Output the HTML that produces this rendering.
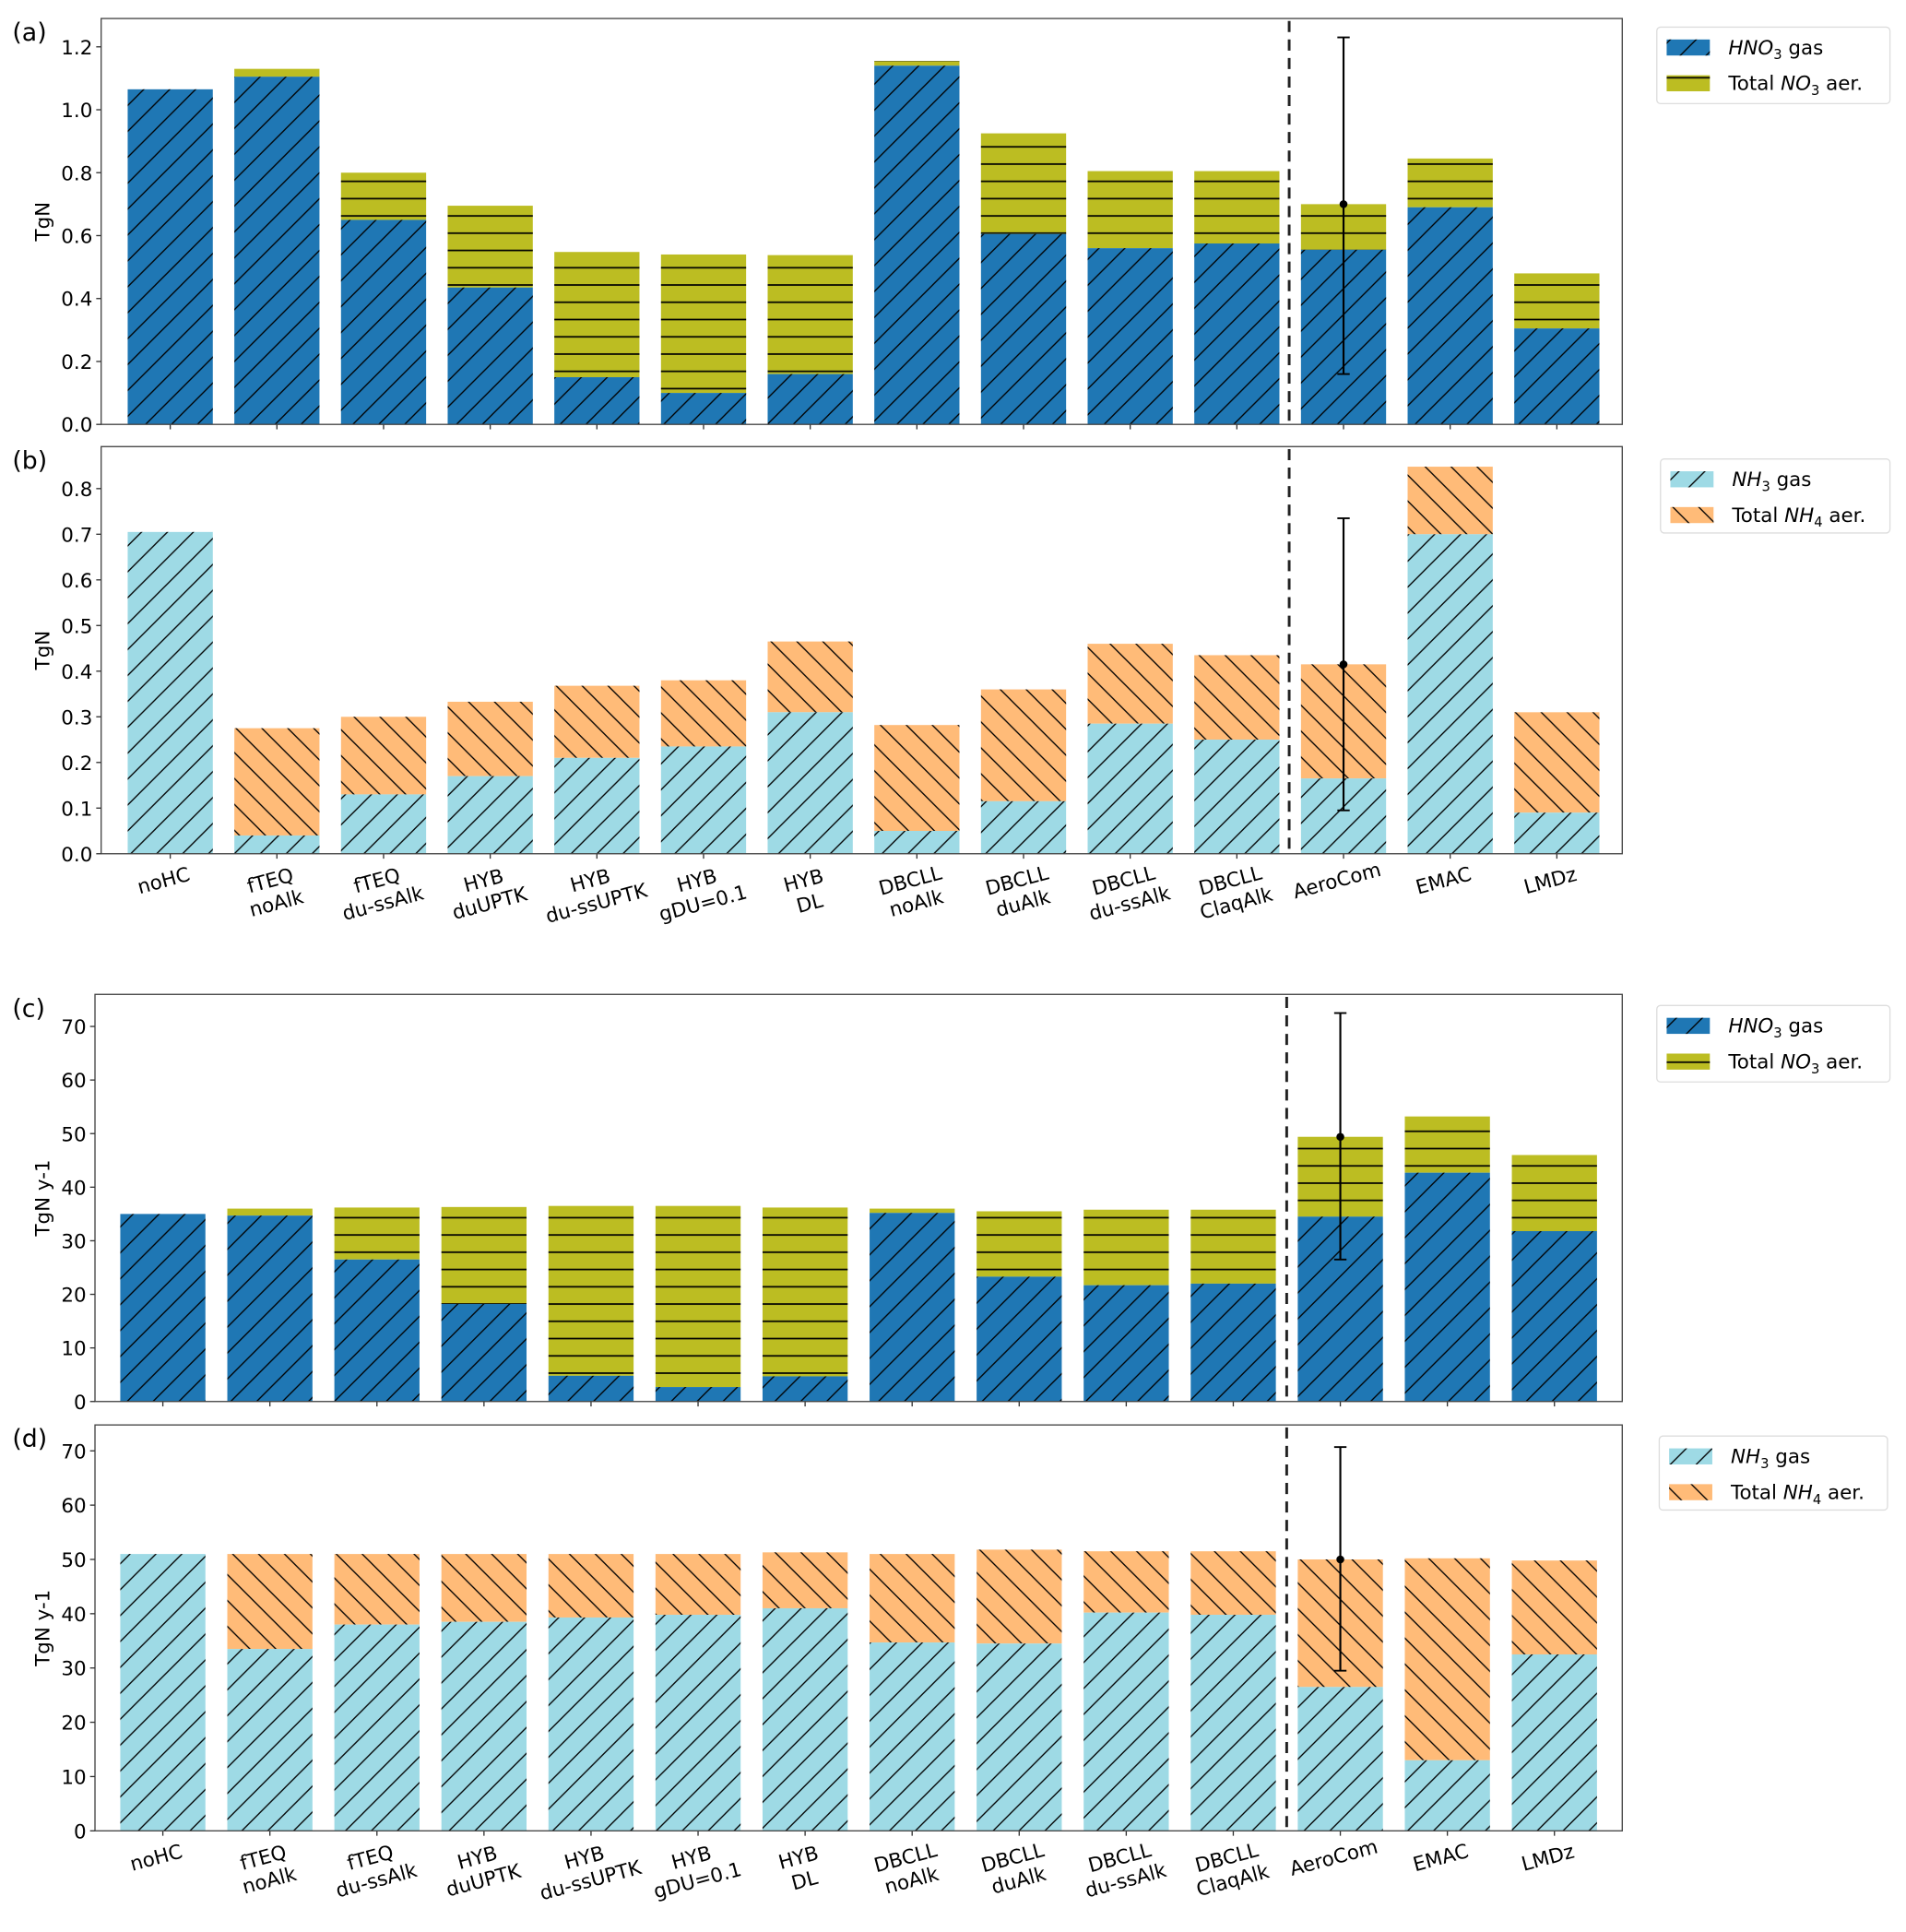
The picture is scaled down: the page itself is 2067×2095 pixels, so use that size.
<!DOCTYPE html>
<html><head><meta charset="utf-8"><style>
html,body{margin:0;padding:0;background:#fff;}
svg{display:block;font-family:"DejaVu Sans","Liberation Sans",sans-serif;}
</style></head><body>
<svg id="fig" width="2067" height="2095" viewBox="0 0 1545 1566" preserveAspectRatio="none" xmlns="http://www.w3.org/2000/svg">
<defs>
<pattern id="hs" patternUnits="userSpaceOnUse" width="21" height="21"><path d="M0,21L21,0M-5,5L5,-5M16,26L26,16" stroke="#000" stroke-width="1"/></pattern>
<pattern id="hb" patternUnits="userSpaceOnUse" width="21" height="21"><path d="M0,0L21,21M-5,16L5,26M16,-5L26,5" stroke="#000" stroke-width="1"/></pattern>
<pattern id="hh" patternUnits="userSpaceOnUse" width="14" height="14"><path d="M-1,7H15" stroke="#000" stroke-width="1.2"/></pattern>
</defs>
</svg>
<script>
const categories=["noHC","fTEQ\nnoAlk","fTEQ\ndu-ssAlk","HYB\nduUPTK","HYB\ndu-ssUPTK","HYB\ngDU=0.1","HYB\nDL","DBCLL\nnoAlk","DBCLL\nduAlk","DBCLL\ndu-ssAlk","DBCLL\nClaqAlk","AeroCom","EMAC","LMDz"];
const aGas=[1.065,1.105,0.65,0.435,0.15,0.10,0.16,1.14,0.605,0.56,0.575,0.555,0.69,0.305];
const aTotal=[1.065,1.13,0.80,0.695,0.548,0.54,0.538,1.155,0.925,0.805,0.805,0.70,0.845,0.48];
const aErr=[0.70,0.16,1.23];
const bGas=[0.705,0.04,0.13,0.17,0.21,0.235,0.31,0.05,0.115,0.285,0.25,0.165,0.70,0.09];
const bTotal=[0.705,0.275,0.30,0.333,0.368,0.38,0.465,0.282,0.36,0.46,0.435,0.415,0.848,0.31];
const bErr=[0.415,0.095,0.735];
const cGas=[35,34.7,26.5,18.2,4.8,2.7,4.7,35.2,23.3,21.7,22,34.5,42.7,31.8];
const cTotal=[35,36,36.2,36.3,36.5,36.5,36.2,36,35.5,35.8,35.8,49.4,53.2,46];
const cErr=[49.4,26.5,72.5];
const dGas=[51,33.5,38,38.5,39.3,39.8,41,34.7,34.5,40.2,39.8,26.5,13,32.5];
const dTotal=[51,51,51,51,51,51,51.3,51,51.8,51.5,51.5,50,50.2,49.8];
const dErr=[50,29.5,70.7];
const ticksA=["0.0","0.2","0.4","0.6","0.8","1.0","1.2"];
const ticksB=["0.0","0.1","0.2","0.3","0.4","0.5","0.6","0.7","0.8"];
const ticksCD=["0","10","20","30","40","50","60","70"];

const NS="http://www.w3.org/2000/svg";
const svg=document.getElementById('fig');
function mk(tag,attrs,parent){const e=document.createElementNS(NS,tag);for(const k in attrs)e.setAttribute(k,attrs[k]);(parent||svg).appendChild(e);return e;}

const panels=[
 {id:'a',L:82,R:1315,T:15,B:344,y0:344,ymax:1.29,gas:aGas,tot:aTotal,err:aErr,ticks:ticksA,ylab:'TgN',c1:'#1f77b4',p1:'hs',c2:'#bcbd22',p2:'hh',leg:['HNO','3',' gas','NO','3'],legBox:[1343,22,189,62],xl:false,x0:138,dx:86.46,dash:1045},
 {id:'b',L:82,R:1315,T:362,B:692,y0:692,ymax:0.892,gas:bGas,tot:bTotal,err:bErr,ticks:ticksB,ylab:'TgN',c1:'#9edae5',p1:'hs',c2:'#ffbb78',p2:'hb',leg:['NH','3',' gas','NH','4'],legBox:[1346,372,186,60],xl:true,x0:138,dx:86.46,dash:1045},
 {id:'c',L:77,R:1315,T:806,B:1136,y0:1136,ymax:(1136-806)/4.343,gas:cGas,tot:cTotal,err:cErr,ticks:ticksCD,ylab:'TgN y-1',c1:'#1f77b4',p1:'hs',c2:'#bcbd22',p2:'hh',leg:['HNO','3',' gas','NO','3'],legBox:[1343,815,189,62],xl:false,x0:132,dx:86.77,dash:1043},
 {id:'d',L:77,R:1315,T:1155,B:1484,y0:1484,ymax:(1484-1155)/4.4,gas:dGas,tot:dTotal,err:dErr,ticks:ticksCD,ylab:'TgN y-1',c1:'#9edae5',p1:'hs',c2:'#ffbb78',p2:'hb',leg:['NH','3',' gas','NH','4'],legBox:[1345,1164,185,60],xl:true,x0:132,dx:86.77,dash:1043}
];
const BW=69;
panels.forEach(p=>{
  const g=mk('g',{});
  
  
  const ys=v=>p.y0-(v/p.ymax)*(p.y0-p.T);
  const xs=i=>p.x0+i*p.dx;
  categories.forEach((c,i)=>{
    const x=xs(i)-BW/2;
    const yt=ys(p.tot[i]),yg=ys(p.gas[i]);
    if(p.tot[i]>p.gas[i]){
      const r2=mk('rect',{x:x,y:yt,width:BW,height:yg-yt,fill:p.c2},g);
      
      
      mk('rect',{x:x,y:yt,width:BW,height:yg-yt,fill:'url(#'+p.p2+')'},g);
    }
    const r1=mk('rect',{x:x,y:yg,width:BW,height:p.y0-yg,fill:p.c1},g);
    
    
    mk('rect',{x:x,y:yg,width:BW,height:p.y0-yg,fill:'url(#'+p.p1+')'},g);
    mk('line',{x1:xs(i),x2:xs(i),y1:p.B,y2:p.B+4,stroke:'#333','stroke-width':1},g);
    if(p.xl){
      const t=mk('text',{transform:`translate(${xs(i)-4},${p.B+27}) rotate(-15)`,'text-anchor':'middle','font-size':16,fill:'#000'},g);
      
      
      c.split('\n').forEach((s,k)=>{const ts=mk('tspan',{x:0,dy:k?19:0},t);ts.textContent=s;});
    }
  });
  // error bar at AeroCom
  const ex=xs(11);
  const eb=mk('g',{},g);
  
  
  mk('line',{x1:ex,x2:ex,y1:ys(p.err[1]),y2:ys(p.err[2]),stroke:'#000','stroke-width':1.6},eb);
  mk('line',{x1:ex-5,x2:ex+5,y1:ys(p.err[1]),y2:ys(p.err[1]),stroke:'#000','stroke-width':1.4},eb);
  mk('line',{x1:ex-5,x2:ex+5,y1:ys(p.err[2]),y2:ys(p.err[2]),stroke:'#000','stroke-width':1.4},eb);
  mk('circle',{cx:ex,cy:ys(p.err[0]),r:3.2,fill:'#000'},eb);
  // dashed separator
  const dl=mk('line',{x1:p.dash,x2:p.dash,y1:p.T+2,y2:p.B,stroke:'#222','stroke-width':2.2,'stroke-dasharray':'9,6'},g);
  
  
  // frame
  mk('rect',{x:p.L,y:p.T,width:p.R-p.L,height:p.B-p.T,fill:'none',stroke:'#444','stroke-width':1},g);
  // y ticks
  p.ticks.forEach(t=>{
    const y=ys(parseFloat(t));
    mk('line',{x1:p.L-4,x2:p.L,y1:y,y2:y,stroke:'#333'},g);
    const tx=mk('text',{x:p.L-7,y:y+6,'text-anchor':'end','font-size':16},g);
    
    
    tx.textContent=t;
  });
  const yl=mk('text',{transform:`translate(40,${(p.T+p.B)/2}) rotate(-90)`,'text-anchor':'middle','font-size':16},g);
  
  
  yl.textContent=p.ylab;
  const pl=mk('text',{x:10,y:p.T+18,'font-size':20},g);
  
  
  pl.textContent='('+p.id+')';
  // legend
  const [lx,ly,lw,lh]=p.legBox;
  const lg=mk('g',{},g);
  
  
  mk('rect',{x:lx,y:ly,width:lw,height:lh,rx:3,fill:'#fff',stroke:'#ddd'},lg);
  [[p.c1,p.p1],[p.c2,p.p2]].forEach((e,k)=>{
    const yy=ly+10+k*29;
    mk('rect',{x:lx+8,y:yy,width:35,height:13,fill:e[0]},lg);
    mk('rect',{x:lx+8,y:yy,width:35,height:13,fill:'url(#'+e[1]+')'},lg);
    const t=mk('text',{x:lx+58,y:yy+12,'font-size':16},lg);
    
    
    if(k===0){
      t.innerHTML=`<tspan font-style="italic">${p.leg[0]}</tspan><tspan font-size="11" dy="4">${p.leg[1]}</tspan><tspan dy="-4">${p.leg[2]}</tspan>`;
    } else {
      t.innerHTML=`Total <tspan font-style="italic">${p.leg[3]}</tspan><tspan font-size="11" dy="4">${p.leg[4]}</tspan><tspan dy="-4"> aer.</tspan>`;
    }
  });
});
</script>
</body></html>
